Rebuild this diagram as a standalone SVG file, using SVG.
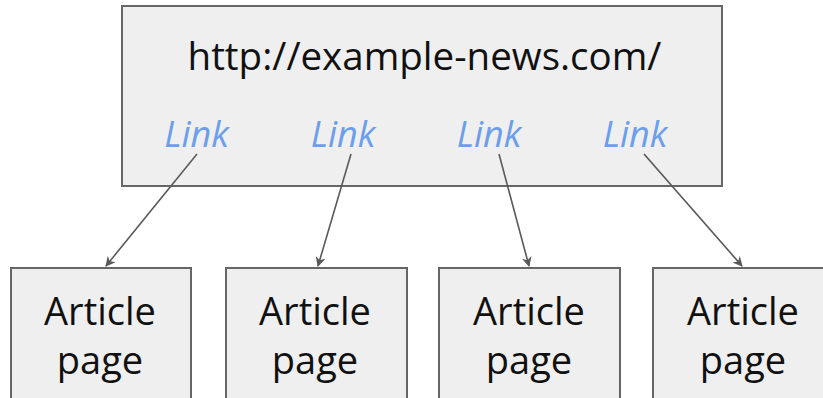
<svg xmlns="http://www.w3.org/2000/svg" width="823" height="398" viewBox="0 0 823 398">
<style>
.box{fill:#efefef;stroke:#666;stroke-width:2}
.t{font-family:"Open Sans",sans-serif;fill:#111;text-anchor:middle}
.a{font-size:38px}
.link{font-family:"Open Sans",sans-serif;font-style:italic;fill:#6d9eeb;text-anchor:middle;font-size:36px}
.c{stroke:#595959;stroke-width:1.6;fill:none;marker-end:url(#ah)}
</style>
<defs>
<marker id="ah" viewBox="0 0 10 10" refX="9" refY="5" markerWidth="10" markerHeight="10" markerUnits="userSpaceOnUse" orient="auto">
<path d="M0,0 L10,5 L0,10 L3,5 Z" fill="#595959"/>
</marker>
</defs>
<g id="home">
<rect class="box" x="122" y="6" width="600" height="180"/>
<text class="t" x="424.5" y="70" font-size="38.5">http://example-news.com/</text>
<text class="link" x="196.5" y="147">Link</text>
<text class="link" x="343" y="147">Link</text>
<text class="link" x="489" y="147">Link</text>
<text class="link" x="635" y="147">Link</text>
</g>
<g id="article1">
<rect class="box" x="11" y="268" width="180" height="132"/>
<text class="t a" x="100" y="325">Article</text>
<text class="t a" x="100" y="374">page</text>
</g>
<g id="article2">
<rect class="box" x="226" y="268" width="181" height="132"/>
<text class="t a" x="315" y="325">Article</text>
<text class="t a" x="315" y="374">page</text>
</g>
<g id="article3">
<rect class="box" x="439" y="268" width="181" height="132"/>
<text class="t a" x="529" y="325">Article</text>
<text class="t a" x="529" y="374">page</text>
</g>
<g id="article4">
<rect class="box" x="653" y="268" width="181" height="132"/>
<text class="t a" x="743" y="325">Article</text>
<text class="t a" x="743" y="374">page</text>
</g>
<g id="connectors">
<line class="c" x1="197" y1="154" x2="106" y2="266"/>
<line class="c" x1="351" y1="154" x2="318" y2="266"/>
<line class="c" x1="499" y1="154" x2="529" y2="266"/>
<line class="c" x1="644" y1="154" x2="742" y2="266"/>
</g>
</svg>
